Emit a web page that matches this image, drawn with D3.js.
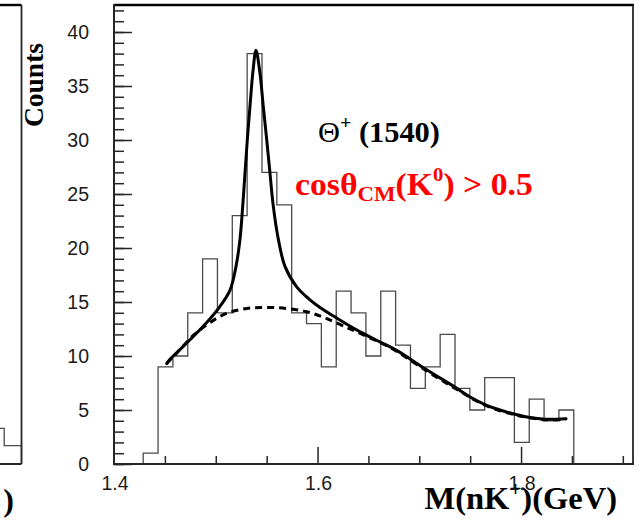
<!DOCTYPE html>
<html>
<head>
<meta charset="utf-8">
<script src="https://cdn.jsdelivr.net/npm/d3@7"></script>
<style>
  html, body { margin: 0; padding: 0; background: #fff; }
  svg { display: block; }
</style>
</head>
<body>
<svg id="chart" width="641" height="520"></svg>
<script>
// nK+ invariant mass spectrum with Θ+(1540) fit, forward K0 selection

// Histogram: equal-width bins starting at binStart (GeV)
const binStart = 1.4287;
const binWidth = 0.01459;
const counts = [1, 9, 10, 14, 19, 14, 23, 38, 27, 24, 14, 13, 9, 16, 14,
                10, 16, 11, 7, 9, 12, 7, 5, 8, 8, 2, 6, 4, 5];

// Full fit (peak + background), sampled along the mass axis
const fitMass  = [1.4518, 1.4550, 1.4649, 1.4779, 1.4911, 1.5042, 1.5140, 1.5199,
                  1.5238, 1.5265, 1.5287, 1.5310, 1.5336, 1.5366, 1.5395, 1.5434,
                  1.5467, 1.5501, 1.5533, 1.5565, 1.5615, 1.5680, 1.5795, 1.5926,
                  1.6024, 1.6191, 1.6388, 1.6614, 1.6781, 1.7076, 1.7371, 1.7499,
                  1.7646, 1.7793, 1.7941, 1.8088, 1.8235, 1.8353, 1.8442];
const fitTotal = [9.3, 9.7, 10.6, 11.8, 13.1, 14.6, 16.1, 18.3,
                  20.8, 23.9, 26.9, 30.0, 33.1, 36.4, 38.3, 36.2,
                  33.1, 30.0, 26.9, 23.9, 20.8, 18.3, 16.4, 15.2,
                  14.5, 13.5, 12.4, 11.3, 10.5, 8.7, 7.0, 6.2,
                  5.5, 5.0, 4.6, 4.3, 4.15, 4.15, 4.2];

// Background component of the fit
const bgMass   = [1.4518, 1.4649, 1.4779, 1.4943, 1.5107, 1.5304, 1.5501, 1.5697,
                  1.5894, 1.6054, 1.6250, 1.6486, 1.6712, 1.7076, 1.7371, 1.7646,
                  1.7941, 1.8235, 1.8442];
const bgValues = [9.3, 10.6, 11.9, 13.1, 13.95, 14.4, 14.5, 14.4,
                  14.1, 13.6, 12.8, 11.8, 10.8, 8.6, 6.9, 5.45,
                  4.55, 4.1, 4.15];

// Edge of the neighbouring panel (only its last bins are visible)
const prevEdges  = [1.875, 1.893, 1.910];
const prevCounts = [3.3, 1.7];

// Axis ticks
const yMajorTicks = [0, 5, 10, 15, 20, 25, 30, 35, 40];
const yMinorTicks = d3.range(0, 43, 1);
const xLabelTicks = [1.4, 1.6, 1.8];
const xMinorTicks = [1.45, 1.5, 1.55, 1.65, 1.7, 1.75, 1.85, 1.9];

const svg = d3.select("#chart");
const plot = { left: 114, right: 633, top: 5, bottom: 464 };

const x = d3.scaleLinear().domain([1.4, 1.91]).range([plot.left, plot.right]);
const y = d3.scaleLinear().domain([0, 42.5]).range([plot.bottom, plot.top]);

const axisColor = "#262626";
const serif = "'Liberation Serif', 'Times New Roman', serif";
const sans = "'Liberation Sans', Arial, Helvetica, sans-serif";

// ---- neighbouring panel (cropped at the left edge) ----
const xPrev = d3.scaleLinear().domain([1.4, 1.91]).range([21.5 - (plot.right - plot.left), 21.5]);
const prevG = svg.append("g");
let prevPath = `M${xPrev(prevEdges[0])},${y(0)}`;
prevCounts.forEach((c, i) => {
  prevPath += `V${y(c)}H${xPrev(prevEdges[i + 1])}`;
});
prevPath += `V${y(0)}`;
prevG.append("path").attr("d", prevPath)
  .attr("fill", "none").attr("stroke", "#4a4a4a").attr("stroke-width", 1.3);
prevG.append("line").attr("x1", 0).attr("x2", 21.5).attr("y1", plot.top).attr("y2", plot.top)
  .attr("stroke", "#000").attr("stroke-width", 2.4);
prevG.append("line").attr("x1", 21.5).attr("x2", 21.5).attr("y1", plot.top).attr("y2", plot.bottom)
  .attr("stroke", axisColor).attr("stroke-width", 1.8);
prevG.append("line").attr("x1", 0).attr("x2", 21.5).attr("y1", plot.bottom).attr("y2", plot.bottom)
  .attr("stroke", axisColor).attr("stroke-width", 2);
svg.append("text").attr("x", 14).attr("y", 511)
  .attr("text-anchor", "end")
  .style("font-family", serif).style("font-weight", "bold").style("font-size", "32px")
  .text(")");

// ---- histogram outline ----
const edges = d3.range(counts.length + 1).map(i => binStart + i * binWidth);
let histPath = `M${x(edges[0])},${y(0)}`;
counts.forEach((c, i) => {
  histPath += `V${y(c)}H${x(edges[i + 1])}`;
});
histPath += `V${y(0)}`;
svg.append("path").attr("d", histPath)
  .attr("fill", "none").attr("stroke", "#4a4a4a").attr("stroke-width", 1.3);

// ---- fit curves ----
const bgLine = d3.line()
  .x((d, i) => x(bgMass[i])).y(d => y(d))
  .curve(d3.curveCatmullRom.alpha(0.5));
svg.append("path").attr("d", bgLine(bgValues))
  .attr("fill", "none").attr("stroke", "#000").attr("stroke-width", 3)
  .attr("stroke-dasharray", "7,5");

const fitLine = d3.line()
  .x((d, i) => x(fitMass[i])).y(d => y(d))
  .curve(d3.curveCatmullRom.alpha(0.5));
svg.append("path").attr("d", fitLine(fitTotal))
  .attr("fill", "none").attr("stroke", "#000").attr("stroke-width", 3)
  .attr("stroke-linejoin", "round").attr("stroke-linecap", "round");

// ---- frame ----
const frame = svg.append("g");
frame.append("line").attr("x1", plot.left).attr("x2", plot.right + 1)
  .attr("y1", plot.top).attr("y2", plot.top)
  .attr("stroke", "#000").attr("stroke-width", 2.4);
frame.append("line").attr("x1", plot.right).attr("x2", plot.right)
  .attr("y1", plot.top).attr("y2", plot.bottom)
  .attr("stroke", axisColor).attr("stroke-width", 1.8);

// ---- y axis: major + minor ticks pointing into the plot ----
const yAxisMinor = d3.axisRight(y).tickValues(yMinorTicks).tickSize(10).tickFormat("");
const yAxisMajor = d3.axisRight(y).tickValues(yMajorTicks).tickSize(18).tickFormat("");
[yAxisMinor, yAxisMajor].forEach(ax => {
  const g = svg.append("g").attr("transform", `translate(${plot.left},0)`).call(ax);
  g.select(".domain").remove();
  g.selectAll(".tick line").attr("stroke", axisColor).attr("stroke-width", 1.5);
});
svg.append("line").attr("x1", plot.left).attr("x2", plot.left)
  .attr("y1", plot.top - 1).attr("y2", plot.bottom + 1)
  .attr("stroke", axisColor).attr("stroke-width", 2);

svg.append("g").selectAll("text").data(yMajorTicks).join("text")
  .attr("x", 89).attr("y", d => y(d))
  .attr("text-anchor", "end").attr("dominant-baseline", "central")
  .style("font-family", sans).style("font-size", "19.5px").style("fill", "#1a1a1a")
  .text(d => d);

// ---- x axis: ticks pointing up into the plot ----
const xAxisMinor = d3.axisTop(x).tickValues(xMinorTicks).tickSize(8).tickFormat("");
const xAxisMajor = d3.axisTop(x).tickValues([1.6, 1.8]).tickSize(17).tickFormat("");
[xAxisMinor, xAxisMajor].forEach(ax => {
  const g = svg.append("g").attr("transform", `translate(0,${plot.bottom})`).call(ax);
  g.select(".domain").remove();
  g.selectAll(".tick line").attr("stroke", axisColor).attr("stroke-width", 1.5);
});
svg.append("line").attr("x1", plot.left - 1).attr("x2", plot.right + 1)
  .attr("y1", plot.bottom).attr("y2", plot.bottom)
  .attr("stroke", axisColor).attr("stroke-width", 2);

// ---- axis titles ----
const xTitle = svg.append("text")
  .attr("x", 617).attr("y", 509).attr("text-anchor", "end")
  .style("font-family", serif).style("font-weight", "bold").style("font-size", "32.5px")
  .style("fill", "#000");
xTitle.append("tspan").text("M(nK");
xTitle.append("tspan").attr("dy", -13).style("font-size", "21px").text("+");
xTitle.append("tspan").attr("dy", 13).text(")(GeV)");

svg.append("g").selectAll("text").data(xLabelTicks).join("text")
  .attr("x", d => x(d) + 1).attr("y", 490)
  .attr("text-anchor", "middle")
  .style("font-family", sans).style("font-size", "19.5px").style("fill", "#1a1a1a")
  .text(d => d3.format(".1f")(d));

svg.append("text")
  .attr("transform", "translate(43,85) rotate(-90)")
  .attr("text-anchor", "middle")
  .style("font-family", serif).style("font-weight", "bold").style("font-size", "27.5px")
  .text("Counts");

// ---- annotations ----
function stretchTo(sel, x0, width) {
  const w = sel.node().getBBox().width;
  const k = width / w;
  sel.attr("transform", `translate(${x0},0) scale(${k},1) translate(${-x0},0)`);
}

const label1 = svg.append("text").attr("x", 318).attr("y", 142)
  .style("font-family", serif).style("font-size", "29px").style("fill", "#000");
label1.append("tspan").text("Θ");
label1.append("tspan").attr("dy", -13).style("font-size", "19px").style("font-weight", "bold").text("+");
label1.append("tspan").attr("dy", 13).style("font-weight", "bold").text(" (1540)");
stretchTo(label1, 318, 122);

const label2 = svg.append("text").attr("x", 295).attr("y", 195)
  .style("font-family", serif).style("font-weight", "bold").style("font-size", "31px")
  .style("fill", "#ff0000");
label2.append("tspan").text("cosθ");
label2.append("tspan").attr("dy", 6).style("font-size", "21px").text("CM");
label2.append("tspan").attr("dy", -6).text("(K");
label2.append("tspan").attr("dy", -14).style("font-size", "19px").text("0");
label2.append("tspan").attr("dy", 14).text(") > 0.5");
stretchTo(label2, 295, 238);
</script>
</body>
</html>
